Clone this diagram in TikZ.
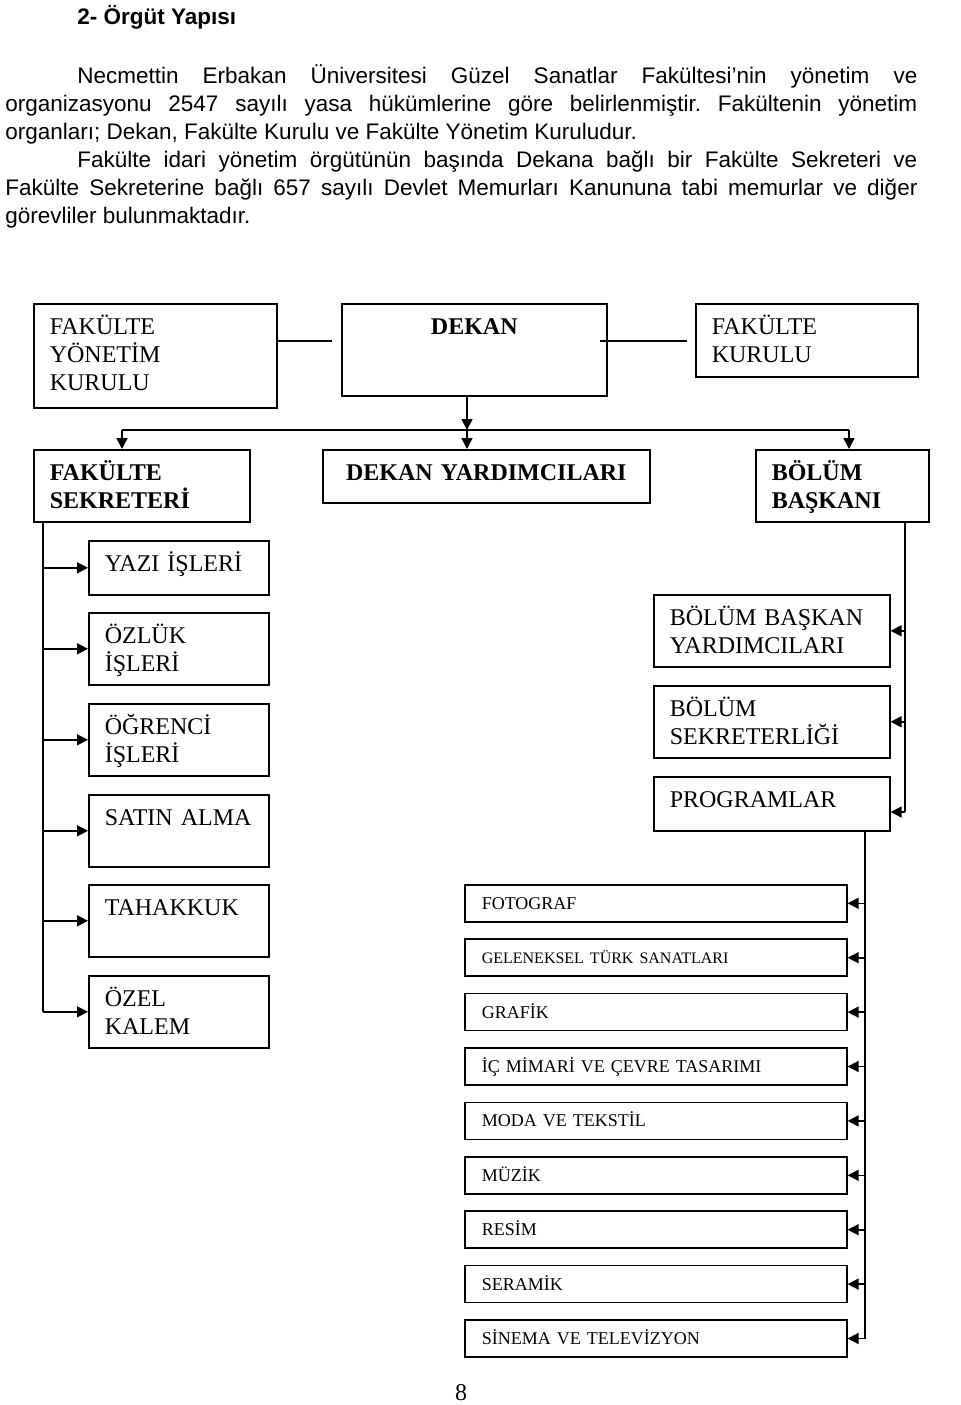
\documentclass[tikz,border=0pt]{standalone}
\usepackage{fontspec}
\setmainfont{Liberation Serif}
\newfontfamily\arial{Liberation Sans}
\usepackage{tikz}
\usetikzlibrary{arrows.meta}
\frenchspacing

\begin{document}
\begin{tikzpicture}
[x=0.5pt,y=-0.5pt,
box/.style={draw,line width=.8pt,anchor=north west,inner xsep=8pt,inner ysep=0pt,text height=15.5pt,align=left,font=\fontsize{12}{14}\selectfont},
boldbox/.style={box,font=\fontsize{12}{14}\selectfont\bfseries},
prg/.style={draw,line width=.8pt,anchor=north west,inner xsep=8.5pt,inner ysep=0pt,text width=174pt,text height=12.25pt,text depth=6.25pt,align=left,font=\fontsize{9}{10}\selectfont},
arr/.style={line width=.8pt,-{Triangle[length=5.5pt,width=5.5pt]}},
ln/.style={line width=.8pt}]
\useasboundingbox (0,0) rectangle (960,1405);
\node[anchor=base west,inner sep=0pt,font=\arial\bfseries\fontsize{11.25}{14}\selectfont] (title) at (77,24) {2- Örgüt Yapısı};
\node[anchor=base west,inner sep=0pt,text width=456pt,align=justify,font=\arial\fontsize{11.25}{14}\selectfont] (para) at (5,83)
{\hspace*{36pt}Necmettin Erbakan Üniversitesi Güzel Sanatlar Fakültesi’nin yönetim ve\linebreak
organizasyonu 2547 sayılı yasa hükümlerine göre belirlenmiştir. Fakültenin yönetim\linebreak
organları; Dekan, Fakülte Kurulu ve Fakülte Yönetim Kuruludur.\par
\hspace*{36pt}Fakülte idari yönetim örgütünün başında Dekana bağlı bir Fakülte Sekreteri ve\linebreak
Fakülte Sekreterine bağlı 657 sayılı Devlet Memurları Kanununa tabi memurlar ve diğer\linebreak
görevliler bulunmaktadır.};

\node[box,text width=105.5pt,text depth=36.5pt] (fyk) at (33,303) {FAKÜLTE\\YÖNETİM\\KURULU};
\node[boldbox,align=center,text width=116.5pt,text depth=30.5pt] (dekan) at (341,303) {DEKAN};
\node[box,text width=95pt,text depth=21pt] (fk) at (695,303) {FAKÜLTE\\KURULU};

\node[boldbox,text width=92pt,text depth=20.5pt] (fs) at (33,449) {FAKÜLTE\\SEKRETERİ};
\node[boldbox,align=center,text width=147.5pt,text depth=11pt] (dy) at (322,449) {DEKAN YARDIMCILARI};
\node[boldbox,text width=70.5pt,text depth=20.5pt] (bb) at (755,449) {BÖLÜM\\BAŞKANI};

\node[box,text width=74pt,text depth=11.5pt] (yazi) at (88,540) {YAZI İŞLERİ};
\node[box,text width=74pt,text depth=20.5pt] (ozluk) at (88,612) {ÖZLÜK\\İŞLERİ};
\node[box,text width=74pt,text depth=20.5pt] (ogrenci) at (88,703) {ÖĞRENCİ\\İŞLERİ};
\node[box,text width=74pt,text depth=20.5pt] (satin) at (88,794) {SATIN ALMA};
\node[box,text width=74pt,text depth=20.5pt] (tahakkuk) at (88,884) {TAHAKKUK};
\node[box,text width=74pt,text depth=20.5pt] (ozel) at (88,975) {ÖZEL\\KALEM};

\node[box,text width=102pt,text depth=20.5pt] (bby) at (653,594) {BÖLÜM BAŞKAN\\YARDIMCILARI};
\node[box,text width=102pt,text depth=20.5pt] (bsek) at (653,685) {BÖLÜM\\SEKRETERLİĞİ};
\node[box,text width=102pt,text depth=11.5pt] (prog) at (653,776) {PROGRAMLAR};

\foreach \t [count=\i] in {FOTOGRAF,{\fontsize{8}{9}\selectfont GELENEKSEL TÜRK SANATLARI},GRAFİK,İÇ MİMARİ VE ÇEVRE TASARIMI,MODA VE TEKSTİL,MÜZİK,RESİM,SERAMİK,SİNEMA VE TELEVİZYON}
  \node[prg] (b\i) at (464,{884+(\i-1)*54.4}) {\t};

\node[font=\fontsize{12}{14}\selectfont,inner sep=0pt] (pno) at (461,1393) {8};

\coordinate (kline) at (0,341);
\draw[ln,shorten >=4.5pt] (fyk.east |- kline) -- (dekan.west |- kline);
\draw[ln,shorten <=-4pt,shorten >=4pt] (dekan.east |- kline) -- (fk.west |- kline);

\coordinate (busL) at (122,430);
\coordinate (busM) at (467,430);
\coordinate (busR) at (849,430);
\draw[ln] (busL) -- (busR);
\draw[arr] (dekan.south -| busM) -- (busM);
\draw[arr] (busL) -- (fs.north -| busL);
\draw[arr] (busM) -- (dy.north -| busM);
\draw[arr] (busR) -- (bb.north -| busR);

\coordinate (ltrunk) at (43,0);
\draw[ln] (fs.south -| ltrunk) -- (ltrunk |- ozel.west);
\foreach \n in {yazi,ozluk,ogrenci,satin,tahakkuk,ozel}
  \draw[arr] (ltrunk |- \n.west) -- (\n.west);

\coordinate (rtrunk) at (905,812);
\draw[ln] (bb.south -| rtrunk) -- (rtrunk);
\draw[arr] (rtrunk) -- (prog.east |- rtrunk);
\foreach \n in {bby,bsek}
  \draw[arr] (rtrunk |- \n.east) -- (\n.east);

\coordinate (ptrunk) at (865,0);
\draw[ln] (prog.south -| ptrunk) -- (ptrunk |- b9.east);
\foreach \i in {1,...,9}
  \draw[arr] (ptrunk |- b\i.east) -- (b\i.east);
\end{tikzpicture}
\end{document}
